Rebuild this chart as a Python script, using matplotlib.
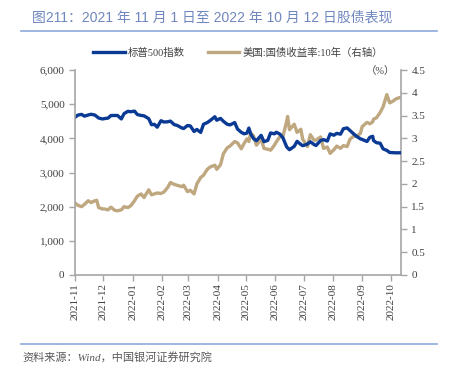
import matplotlib
matplotlib.use("Agg")
import matplotlib.pyplot as plt
import matplotlib.dates as mdates
import pandas as pd

plt.rcParams['font.family'] = ['Liberation Serif', 'Noto Sans CJK SC', 'DejaVu Sans']

# S&P 500 (left axis)
spx_dates = ["2021-11-01", "2021-11-04", "2021-11-08", "2021-11-11", "2021-11-15", "2021-11-18",
             "2021-11-22", "2021-11-26", "2021-11-30", "2021-12-02", "2021-12-06", "2021-12-09",
             "2021-12-13", "2021-12-16", "2021-12-20", "2021-12-23", "2021-12-27", "2021-12-30",
             "2022-01-03", "2022-01-06", "2022-01-10", "2022-01-13", "2022-01-18", "2022-01-21",
             "2022-01-24", "2022-01-27", "2022-01-31", "2022-02-03", "2022-02-07", "2022-02-10",
             "2022-02-14", "2022-02-17", "2022-02-22", "2022-02-24", "2022-02-28", "2022-03-03",
             "2022-03-07", "2022-03-10", "2022-03-14", "2022-03-17", "2022-03-21", "2022-03-24",
             "2022-03-29", "2022-03-31", "2022-04-04", "2022-04-07", "2022-04-11", "2022-04-14",
             "2022-04-19", "2022-04-22", "2022-04-26", "2022-04-29", "2022-05-02", "2022-05-04",
             "2022-05-06", "2022-05-09", "2022-05-12", "2022-05-17", "2022-05-20", "2022-05-24",
             "2022-05-27", "2022-05-31", "2022-06-02", "2022-06-06", "2022-06-09", "2022-06-13",
             "2022-06-16", "2022-06-21", "2022-06-24", "2022-06-28", "2022-06-30", "2022-07-05",
             "2022-07-08", "2022-07-12", "2022-07-14", "2022-07-19", "2022-07-22", "2022-07-26",
             "2022-07-29", "2022-08-02", "2022-08-05", "2022-08-09", "2022-08-12", "2022-08-16",
             "2022-08-19", "2022-08-23", "2022-08-26", "2022-08-30", "2022-09-01", "2022-09-06",
             "2022-09-09", "2022-09-12", "2022-09-13", "2022-09-16", "2022-09-20", "2022-09-23",
             "2022-09-27", "2022-09-30", "2022-10-03", "2022-10-05", "2022-10-07", "2022-10-10",
             "2022-10-12"]
spx = [4614, 4680, 4701, 4649, 4683, 4704, 4682, 4595, 4567, 4577, 4592, 4667,
       4669, 4669, 4568, 4725, 4791, 4778, 4796, 4696, 4670, 4659, 4577, 4398,
       4410, 4326, 4516, 4478, 4484, 4504, 4401, 4380, 4304, 4288, 4374, 4363,
       4201, 4260, 4173, 4412, 4461, 4520, 4632, 4530, 4583, 4500, 4413, 4392,
       4462, 4272, 4175, 4132, 4155, 4300, 4123, 3991, 3930, 4088, 3901, 3941,
       4158, 4132, 4177, 4121, 4018, 3750, 3667, 3765, 3912, 3821, 3785, 3831,
       3899, 3819, 3790, 3937, 3962, 3921, 4130, 4091, 4145, 4122, 4280, 4305,
       4228, 4128, 4058, 3986, 3966, 3908, 4030, 4060, 3933, 3873, 3856, 3693,
       3647, 3586, 3582, 3578, 3576, 3577, 3577]

# US 10y treasury yield, % (right axis)
ust_dates = ["2021-11-01", "2021-11-04", "2021-11-08", "2021-11-11", "2021-11-15", "2021-11-18",
             "2021-11-22", "2021-11-24", "2021-11-26", "2021-11-30", "2021-12-02", "2021-12-06",
             "2021-12-09", "2021-12-13", "2021-12-16", "2021-12-20", "2021-12-23", "2021-12-27",
             "2021-12-30", "2022-01-03", "2022-01-06", "2022-01-10", "2022-01-13", "2022-01-18",
             "2022-01-21", "2022-01-24", "2022-01-27", "2022-01-31", "2022-02-03", "2022-02-07",
             "2022-02-10", "2022-02-14", "2022-02-17", "2022-02-22", "2022-02-24", "2022-02-28",
             "2022-03-03", "2022-03-07", "2022-03-10", "2022-03-14", "2022-03-17", "2022-03-21",
             "2022-03-24", "2022-03-29", "2022-03-31", "2022-04-04", "2022-04-07", "2022-04-11",
             "2022-04-14", "2022-04-19", "2022-04-22", "2022-04-26", "2022-04-29", "2022-05-02",
             "2022-05-04", "2022-05-06", "2022-05-09", "2022-05-12", "2022-05-17", "2022-05-20",
             "2022-05-24", "2022-05-27", "2022-05-31", "2022-06-02", "2022-06-06", "2022-06-09",
             "2022-06-13", "2022-06-14", "2022-06-16", "2022-06-21", "2022-06-24", "2022-06-28",
             "2022-06-30", "2022-07-05", "2022-07-08", "2022-07-12", "2022-07-14", "2022-07-19",
             "2022-07-22", "2022-07-26", "2022-07-29", "2022-08-02", "2022-08-05", "2022-08-09",
             "2022-08-12", "2022-08-16", "2022-08-19", "2022-08-23", "2022-08-26", "2022-08-30",
             "2022-09-01", "2022-09-06", "2022-09-09", "2022-09-12", "2022-09-13", "2022-09-16",
             "2022-09-20", "2022-09-23", "2022-09-27", "2022-09-30", "2022-10-03", "2022-10-05",
             "2022-10-07", "2022-10-10", "2022-10-12"]
ust = [1.58, 1.53, 1.50, 1.55, 1.63, 1.59, 1.63, 1.64, 1.48, 1.45, 1.45, 1.43,
       1.49, 1.42, 1.41, 1.43, 1.50, 1.48, 1.52, 1.63, 1.73, 1.78, 1.70, 1.87,
       1.76, 1.78, 1.80, 1.79, 1.82, 1.92, 2.03, 1.99, 1.97, 1.94, 1.97, 1.83,
       1.86, 1.78, 2.00, 2.14, 2.19, 2.32, 2.37, 2.41, 2.32, 2.42, 2.66, 2.79,
       2.83, 2.93, 2.90, 2.77, 2.89, 2.99, 2.93, 3.12, 3.05, 2.85, 2.98, 2.78,
       2.76, 2.74, 2.85, 2.92, 3.04, 3.04, 3.37, 3.48, 3.19, 3.31, 3.13, 3.20,
       2.98, 2.82, 3.08, 2.96, 2.96, 3.03, 2.78, 2.81, 2.67, 2.75, 2.83, 2.78,
       2.84, 2.82, 2.98, 3.05, 3.04, 3.11, 3.26, 3.35, 3.32, 3.36, 3.42, 3.45,
       3.57, 3.69, 3.96, 3.78, 3.81, 3.84, 3.87, 3.89, 3.90]

left_ticks = [0, 1000, 2000, 3000, 4000, 5000, 6000]
right_ticks = [0, 0.5, 1, 1.5, 2, 2.5, 3, 3.5, 4, 4.5]

blue = "#0a3a94"
tan = "#bfa77f"
grey = "#a6a6a6"
txt = "#404040"

fig = plt.figure(figsize=(4.52, 3.74), dpi=100)
ax = fig.add_axes([75 / 452, 1 - 275 / 374, 326 / 452, 205 / 374])
ax2 = ax.twinx()

d1 = pd.to_datetime(spx_dates)
d2 = pd.to_datetime(ust_dates)
l1, = ax.plot(d1, spx, color=blue, lw=2.4, label="标普500指数")
l2, = ax2.plot(d2, ust, color=tan, lw=2.4, label="美国:国债收益率:10年（右轴）")

ax.set_ylim(0, 6000)
ax.set_yticks(left_ticks)
ax.set_yticklabels([f"{v:,}" for v in left_ticks])
ax2.set_ylim(0, 4.5)
ax2.set_yticks(right_ticks)
ax2.set_yticklabels([("%g" % v) for v in right_ticks])

ax.set_xlim(d1[0], d1[-1])
ax.xaxis.set_major_locator(mdates.MonthLocator())
ax.xaxis.set_major_formatter(mdates.DateFormatter("%Y-%m"))
for lab in ax.get_xticklabels():
    lab.set_rotation(90)

for a in (ax, ax2):
    a.spines['top'].set_visible(False)
    for s in ('left', 'right', 'bottom'):
        a.spines[s].set_color(grey)
        a.spines[s].set_linewidth(1.2)
    a.tick_params(colors=grey, labelcolor=txt, labelsize=8, length=4, width=1)
ax.spines['right'].set_visible(False)
ax2.spines['left'].set_visible(False)
ax2.spines['bottom'].set_visible(False)
ax.tick_params(axis='x', pad=2)

ax.set_zorder(ax2.get_zorder() + 1)
ax.patch.set_visible(False)

fig.legend(handles=[l1, l2], loc="center", bbox_to_anchor=(238 / 452, 1 - 53 / 374), ncol=2,
           frameon=False, fontsize=7.5, handlelength=3.0, columnspacing=2.2,
           handletextpad=0.3, labelcolor=txt)

fig.text(380 / 452, 1 - 71 / 374, "（%）", fontsize=7.5, color=txt, ha="center", va="center")

fig.text(32 / 452, 1 - 18 / 374, "图211：2021 年 11 月 1 日至 2022 年 10 月 12 日股债表现",
         fontsize=10, color="#6f86bf", ha="left", va="center",
         family=['Liberation Sans', 'Noto Sans CJK SC'])
line_col = "#8ea9db"
fig.add_artist(plt.Line2D([21 / 452, 437 / 452], [1 - 31 / 374, 1 - 31 / 374],
                          color=line_col, lw=1.2, transform=fig.transFigure))
fig.add_artist(plt.Line2D([21 / 452, 437 / 452], [1 - 344 / 374, 1 - 344 / 374],
                          color=line_col, lw=1.2, transform=fig.transFigure))
fig.text(22 / 452, 1 - 357 / 374, "资料来源：Wind，中国银河证券研究院", fontsize=8,
         color="#595959", style="italic", ha="left", va="center")

fig.savefig("out.png", dpi=100)
